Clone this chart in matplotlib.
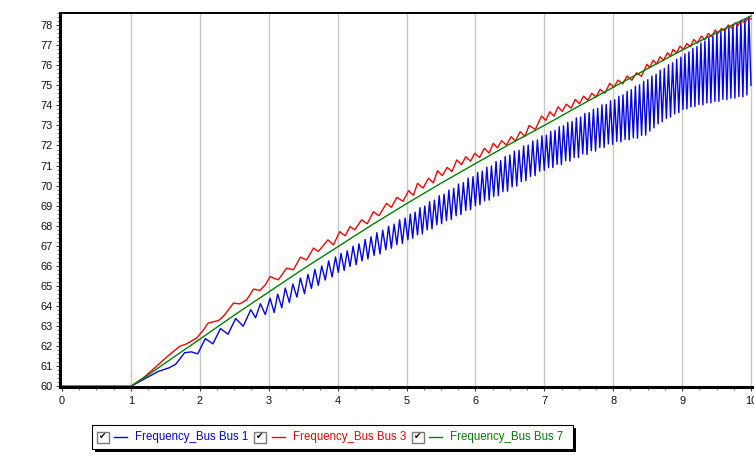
import matplotlib
matplotlib.use("Agg")
import matplotlib.pyplot as plt
from matplotlib.patches import Rectangle
from matplotlib.lines import Line2D
from matplotlib.ticker import MultipleLocator

plt.rcParams['font.family'] = ['Liberation Sans', 'DejaVu Sans']

series_names = ["Frequency_Bus Bus 1", "Frequency_Bus Bus 3", "Frequency_Bus Bus 7"]
series_colors = ["#0000ff", "#ff0000", "#008000"]
x_ticks = list(range(0, 11))
y_ticks = list(range(60, 79))

# Bus 1 (blue): read extrema of the oscillation
blue_pts = [
    (0.0, 60.0), (1.0, 60.0), (1.2, 60.38), (1.4, 60.75), (1.55, 60.92), (1.65, 61.1),
    (1.78, 61.68), (1.88, 61.72), (1.97, 61.62), (2.08, 62.38), (2.19, 62.12), (2.3, 62.88),
    (2.41, 62.6), (2.52, 63.38), (2.63, 63.0), (2.74, 63.82), (2.81, 63.42), (2.88, 64.12),
    (2.95, 63.58),
    (3.02, 64.39), (3.08, 63.68), (3.13, 64.6), (3.19, 63.92), (3.24, 64.9), (3.30, 64.18),
    (3.35, 65.1), (3.41, 64.45), (3.46, 65.4), (3.52, 64.62), (3.57, 65.58), (3.62, 64.88),
    (3.67, 65.83), (3.72, 65.03), (3.77, 66.0), (3.82, 65.3), (3.87, 66.25), (3.92, 65.45),
    (3.97, 66.45), (4.01, 65.68),
    (4.05, 66.62), (4.095, 65.78), (4.14, 66.76), (4.18, 65.97), (4.225, 66.98), (4.27, 66.06),
    (4.31, 67.1), (4.355, 66.25), (4.40, 67.32), (4.44, 66.35), (4.485, 67.45), (4.53, 66.52),
    (4.57, 67.66), (4.615, 66.6), (4.655, 67.78), (4.70, 66.8), (4.74, 67.98), (4.78, 66.88),
    (4.82, 68.08), (4.86, 67.06), (4.90, 68.3), (4.94, 67.12), (4.98, 68.38), (5.02, 67.3),
    (5.055, 68.58), (5.09, 67.38), (5.125, 68.68), (5.16, 67.55), (5.195, 68.9), (5.23, 67.6),
    (5.265, 68.98), (5.30, 67.8), (5.335, 69.2), (5.37, 67.85), (5.405, 69.28), (5.44, 68.05),
    (5.475, 69.5), (5.51, 68.1), (5.545, 69.58), (5.58, 68.26), (5.615, 69.78), (5.65, 68.32),
    (5.685, 69.86), (5.72, 68.5), (5.755, 70.08), (5.79, 68.56), (5.825, 70.15), (5.86, 68.76),
    (5.895, 70.38), (5.93, 68.8), (5.965, 70.45), (6.0, 69.0),
    (6.033, 70.65), (6.066, 69.05), (6.1, 70.72), (6.133, 69.24), (6.166, 70.92), (6.2, 69.28),
    (6.233, 70.98), (6.266, 69.46), (6.3, 71.2), (6.333, 69.5), (6.366, 71.25), (6.4, 69.7),
    (6.433, 71.45), (6.466, 69.72), (6.5, 71.52), (6.533, 69.94), (6.566, 71.72), (6.6, 69.98),
    (6.633, 71.76), (6.666, 70.2), (6.7, 71.98), (6.733, 70.25), (6.766, 72.02), (6.8, 70.46),
    (6.833, 72.22), (6.866, 70.5), (6.9, 72.28), (6.933, 70.72), (6.966, 72.48), (7.0, 70.76),
    (7.031, 72.52), (7.062, 70.9), (7.093, 72.7), (7.124, 70.9), (7.155, 72.75), (7.186, 71.06),
    (7.217, 72.93), (7.248, 71.05), (7.279, 72.98), (7.31, 71.24), (7.341, 73.15), (7.372, 71.22),
    (7.403, 73.2), (7.434, 71.4), (7.465, 73.38), (7.496, 71.4), (7.527, 73.42), (7.558, 71.58),
    (7.589, 73.6), (7.62, 71.55), (7.651, 73.64), (7.682, 71.74), (7.713, 73.8), (7.744, 71.72),
    (7.775, 73.85), (7.806, 71.9), (7.837, 74.02), (7.868, 71.9), (7.899, 74.05), (7.93, 72.08),
    (7.961, 74.22), (7.992, 72.06),
    (8.022, 74.28), (8.052, 72.2), (8.082, 74.45), (8.112, 72.18), (8.142, 74.52), (8.172, 72.3),
    (8.202, 74.7), (8.232, 72.28), (8.262, 74.78), (8.292, 72.38), (8.322, 74.95), (8.352, 72.36),
    (8.382, 75.02), (8.412, 72.5), (8.442, 75.2), (8.472, 72.52), (8.502, 75.28), (8.532, 72.72),
    (8.562, 75.46), (8.592, 72.88), (8.622, 75.55), (8.652, 73.08), (8.682, 75.75), (8.712, 73.18),
    (8.742, 75.84), (8.772, 73.35), (8.802, 76.02), (8.832, 73.42), (8.862, 76.12), (8.892, 73.58),
    (8.922, 76.3), (8.952, 73.64), (8.982, 76.4), (9.012, 73.8),
    (9.041, 76.56), (9.07, 73.82), (9.099, 76.66), (9.128, 73.92), (9.157, 76.84), (9.186, 73.94),
    (9.215, 76.93), (9.244, 74.04), (9.273, 77.1), (9.302, 74.02), (9.331, 77.2), (9.36, 74.12),
    (9.389, 77.38), (9.418, 74.12), (9.447, 77.46), (9.476, 74.2), (9.505, 77.62), (9.534, 74.2),
    (9.563, 77.7), (9.592, 74.3), (9.621, 77.82), (9.65, 74.28), (9.679, 77.9), (9.708, 74.36),
    (9.737, 78.02), (9.766, 74.36), (9.795, 78.08), (9.824, 74.44), (9.853, 78.22), (9.882, 74.42),
    (9.911, 78.3), (9.94, 74.52), (9.969, 78.42), (10.0, 75.0),
]

# Bus 3 (red)
red_pts = [
    (0.0, 60.0), (1.0, 60.0), (1.2, 60.48), (1.37, 61.0), (1.55, 61.55), (1.71, 62.0),
    (1.81, 62.12), (1.95, 62.4), (2.04, 62.75), (2.12, 63.15), (2.27, 63.28), (2.34, 63.48),
    (2.49, 64.15), (2.58, 64.11), (2.68, 64.31), (2.78, 64.85), (2.87, 64.78), (2.95, 65.05),
    (3.02, 65.47), (3.14, 65.31), (3.26, 65.89), (3.36, 65.81), (3.46, 66.44), (3.55, 66.3),
    (3.65, 66.89), (3.72, 66.72), (3.86, 67.3), (3.94, 67.05), (4.03, 67.71), (4.11, 67.5),
    (4.18, 67.96), (4.25, 67.8), (4.35, 68.3), (4.43, 68.1), (4.52, 68.7), (4.6, 68.5),
    (4.71, 69.12), (4.78, 68.92), (4.86, 69.42), (4.95, 69.22), (5.03, 69.75), (5.10, 69.52),
    (5.16, 70.12), (5.24, 69.88), (5.32, 70.37), (5.39, 70.14), (5.45, 70.75), (5.52, 70.5),
    (5.59, 70.91), (5.66, 70.7), (5.73, 71.28), (5.80, 71.05), (5.86, 71.44), (5.93, 71.22),
    (5.99, 71.61), (6.06, 71.4), (6.13, 71.86), (6.2, 71.62), (6.26, 72.11), (6.32, 71.88),
    (6.38, 72.24), (6.45, 72.02), (6.52, 72.44), (6.58, 72.22), (6.65, 72.69), (6.72, 72.46),
    (6.78, 73.0), (6.87, 72.8), (6.96, 73.47), (7.02, 73.25), (7.08, 73.68), (7.14, 73.46),
    (7.2, 73.93), (7.26, 73.7), (7.32, 74.06), (7.39, 73.86), (7.45, 74.3), (7.51, 74.08),
    (7.57, 74.46), (7.63, 74.25), (7.69, 74.6), (7.75, 74.42), (7.81, 74.8), (7.88, 74.6),
    (7.95, 75.1), (8.01, 74.9), (8.07, 75.26), (8.14, 75.07), (8.2, 75.46), (8.27, 75.25),
    (8.34, 75.62), (8.41, 75.45), (8.49, 76.05), (8.53, 75.88), (8.58, 76.25), (8.63, 76.06),
    (8.68, 76.42), (8.73, 76.25), (8.79, 76.62), (8.83, 76.45), (8.87, 76.79), (8.92, 76.6),
    (8.97, 76.95), (9.02, 76.78), (9.07, 77.08), (9.12, 76.92), (9.17, 77.28), (9.22, 77.1),
    (9.28, 77.45), (9.33, 77.28), (9.38, 77.58), (9.43, 77.42), (9.48, 77.75), (9.52, 77.58),
    (9.57, 77.83), (9.62, 77.7), (9.67, 78.0), (9.72, 77.85), (9.77, 78.11), (9.81, 77.98),
    (9.86, 78.24), (9.91, 78.1), (9.96, 78.38), (10.0, 78.3),
]

# Bus 7 (green)
green_pts = [
    (0.0, 60.0), (1.0, 60.0), (1.25, 60.57), (1.5, 61.17), (2.0, 62.35), (2.5, 63.55),
    (3.0, 64.7), (3.5, 65.85), (4.0, 66.95), (4.5, 68.05), (5.0, 69.1), (5.5, 70.12),
    (6.0, 71.1), (6.5, 72.07), (7.0, 73.0), (7.5, 73.96), (8.0, 74.9), (8.5, 75.83),
    (9.0, 76.75), (9.5, 77.62), (10.0, 78.45),
]

W, H = 754, 459
fig = plt.figure(figsize=(W / 100, H / 100), dpi=100)
fig.patch.set_facecolor("white")

# axes occupying pixel box x 60..754, y 13..387
ax = fig.add_axes([60 / W, 1 - 387 / H, (754 - 60) / W, (387 - 13) / H])
ppu = 68.9
ax.set_xlim(-2 / ppu, 10 + 3 / ppu)
ax.set_ylim(59.97, 78.6)

for xv in x_ticks[1:]:
    ax.axvline(xv, color="#c8c8c8", lw=1.0, zorder=0)

for pts, col in zip([blue_pts, red_pts, green_pts], series_colors):
    xs = [p[0] for p in pts]
    ys = [p[1] for p in pts]
    ax.plot(xs, ys, color=col, lw=1.0, solid_joinstyle="round", zorder=2)

ax.set_xticks(x_ticks)
ax.set_yticks(y_ticks)
ax.set_xticklabels([str(v) for v in x_ticks])
ax.set_yticklabels([str(v) for v in y_ticks])
ax.xaxis.set_minor_locator(MultipleLocator(0.25))
ax.yaxis.set_minor_locator(MultipleLocator(0.2))
ax.tick_params(axis="both", which="major", direction="out", length=3.2, width=0.8,
               color="#444444", labelsize=7.9, labelcolor="#111111")
ax.tick_params(axis="both", which="minor", direction="out", length=2.0, width=0.6,
               color="#666666")
ax.tick_params(axis="x", which="major", pad=3)
ax.tick_params(axis="y", which="major", pad=2)

ax.spines["left"].set_linewidth(2.2)
ax.spines["bottom"].set_linewidth(2.2)
ax.spines["top"].set_linewidth(1.4)
ax.spines["right"].set_visible(False)
for s in ["left", "bottom", "top"]:
    ax.spines[s].set_color("black")

# Legend drawn in figure pixel coordinates
def fx(px):
    return px / W

def fy(py):
    return 1 - py / H

fig.patches.append(Rectangle((fx(95), fy(452)), fx(576) - fx(95), (452 - 428) / H,
                             transform=fig.transFigure, facecolor="black", edgecolor="none",
                             zorder=1))
fig.patches.append(Rectangle((fx(92), fy(449)), fx(573) - fx(92), (449 - 425) / H,
                             transform=fig.transFigure, facecolor="white", edgecolor="black",
                             lw=0.8, zorder=2))

box_x = [97, 254, 412]
line_x = [114, 272, 429]
text_x = [135, 293, 450]
yc = 437
for i in range(3):
    fig.patches.append(Rectangle((fx(box_x[i]), fy(442.5)), 12 / W, 11 / H,
                                 transform=fig.transFigure, facecolor="white",
                                 edgecolor="#7a7a7a", lw=1.0, zorder=3))
    fig.text(fx(box_x[i] + 6), fy(yc), "\u2714", family="DejaVu Sans", fontsize=6.5,
             ha="center", va="center", color="black", zorder=4)
    fig.lines.append(Line2D([fx(line_x[i]), fx(line_x[i] + 13)], [fy(yc), fy(yc)],
                            transform=fig.transFigure, color=series_colors[i], lw=1.0,
                            zorder=4))
    fig.text(fx(text_x[i]), fy(yc), series_names[i], fontsize=8.3, ha="left",
             va="center", color=series_colors[i], zorder=4)

fig.savefig("out.png", dpi=100, facecolor="white")
